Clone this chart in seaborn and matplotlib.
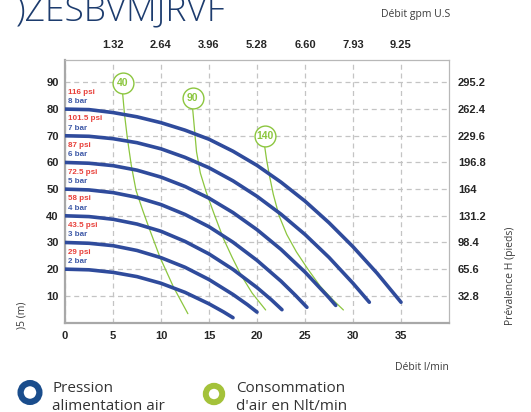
import pandas as pd
import seaborn as sns
from matplotlib import pyplot as plt
from matplotlib.patches import Circle

# pressure curves: debit (l/min) -> head (m)
q_8bar = [0, 2.5, 5, 7.5, 10, 12.5, 15, 17.5, 20, 22.5, 25, 27.5, 30, 32.5, 35]
h_8bar = [80, 79.8, 78.7, 77.1, 74.9, 72.1, 68.7, 64.2, 58.9, 52.6, 45.5, 37.4, 28.4, 18.5, 7.6]
q_7bar = [0, 2.5, 5, 7.5, 10, 12.5, 15, 17.5, 20, 22.5, 25, 27.5, 30, 31.7]
h_7bar = [70, 69.8, 68.9, 67.4, 65.1, 61.9, 58.0, 53.1, 47.3, 40.6, 33.0, 24.4, 14.7, 7.6]
q_6bar = [0, 2.5, 5, 7.5, 10, 12.5, 15, 17.5, 20, 22.5, 25, 27.5, 28.2]
h_6bar = [60, 59.7, 58.8, 57.1, 54.5, 51.0, 46.6, 41.2, 34.8, 27.4, 18.9, 9.3, 6.4]
q_5bar = [0, 2.5, 5, 7.5, 10, 12.5, 15, 17.5, 20, 22.5, 24, 25.2]
h_5bar = [50, 49.7, 48.7, 46.9, 44.2, 40.5, 35.9, 30.1, 23.3, 15.5, 10.2, 5.7]
q_4bar = [0, 2.5, 5, 7.5, 10, 12.5, 15, 17.5, 20, 21.5, 22.6]
h_4bar = [40, 39.7, 38.7, 36.9, 34.2, 30.4, 25.7, 19.9, 13.1, 8.5, 4.8]
q_3bar = [0, 2.5, 5, 7.5, 10, 12.5, 15, 17.5, 19, 20]
h_3bar = [30, 29.7, 28.8, 27.0, 24.3, 20.7, 16.1, 10.5, 6.7, 3.9]
q_2bar = [0, 2.5, 5, 7.5, 10, 12.5, 15, 16.5, 17.5]
h_2bar = [20, 19.75, 18.8, 17.2, 14.7, 11.3, 7.0, 4.0, 1.8]

bar_labels = ["8 bar", "7 bar", "6 bar", "5 bar", "4 bar", "3 bar", "2 bar"]
psi_labels = ["116 psi", "101.5 psi", "87 psi", "72.5 psi", "58 psi", "43.5 psi", "29 psi"]
start_heads = [80, 70, 60, 50, 40, 30, 20]

# air consumption lines (Nlt/min)
q_air40 = [6.0, 6.2, 6.5, 6.9, 7.4, 8.1, 8.8, 9.9, 11.3, 12.8]
h_air40 = [86, 78, 69, 59, 49.5, 42, 35, 24.4, 13.3, 3.3]
q_air90 = [13.3, 13.5, 13.7, 14.1, 14.7, 15.5, 16.5, 17.4, 18.3, 19.5, 20.9]
h_air90 = [80, 72, 64, 56, 49, 41, 31.5, 24.5, 18, 11, 4.7]
q_air140 = [20.8, 21.0, 21.3, 21.7, 22.3, 23.1, 24.1, 25.3, 26.6, 27.9, 29.0]
h_air140 = [66, 61, 55, 48, 40, 33, 26.5, 20, 13.5, 8.5, 4.7]
air_labels = ["40", "90", "140"]
air_bubble_q = [6.0, 13.3, 20.8]
air_bubble_h = [89.8, 84.1, 70.0]

x_ticks = [0, 5, 10, 15, 20, 25, 30, 35]
gpm_ticks = [5, 10, 15, 20, 25, 30, 35]
gpm_labels = ["1.32", "2.64", "3.96", "5.28", "6.60", "7.93", "9.25"]
y_ticks = [10, 20, 30, 40, 50, 60, 70, 80, 90]
feet_labels = ["32.8", "65.6", "98.4", "131.2", "164", "196.8", "229.6", "262.4", "295.2"]

BLUE = "#2f4b9c"
GREEN = "#8cc63f"

curves = [(q_8bar, h_8bar), (q_7bar, h_7bar), (q_6bar, h_6bar), (q_5bar, h_5bar),
          (q_4bar, h_4bar), (q_3bar, h_3bar), (q_2bar, h_2bar)]
press_df = pd.concat([pd.DataFrame({"q": q, "h": h, "bar": b})
                      for (q, h), b in zip(curves, bar_labels)])
air = [(q_air40, h_air40), (q_air90, h_air90), (q_air140, h_air140)]
air_df = pd.concat([pd.DataFrame({"q": q, "h": h, "air": a})
                    for (q, h), a in zip(air, air_labels)])

sns.set_style("white")
plt.rcParams["font.family"] = ["Liberation Sans", "DejaVu Sans"]

fig = plt.figure(figsize=(5.31, 4.12), dpi=100)
ax = fig.add_axes([65 / 531, 89.5 / 412, 384 / 531, 262.5 / 412])

sns.lineplot(data=air_df, x="q", y="h", hue="air", palette=[GREEN] * 3, legend=False,
             estimator=None, sort=False, lw=0.9, ax=ax, zorder=3)
sns.lineplot(data=press_df, x="q", y="h", hue="bar", palette=[BLUE] * 7, legend=False,
             estimator=None, sort=False, lw=2.6, ax=ax, zorder=4,
             solid_joinstyle="round", solid_capstyle="round")

ax.plot(air_bubble_q, air_bubble_h, "o", ms=15, mfc="white", mec=GREEN, mew=1.0, zorder=6)
for q, h, lab in zip(air_bubble_q, air_bubble_h, air_labels):
    ax.text(q, h, lab, ha="center", va="center", color=GREEN, fontsize=7.5,
            fontweight="bold", zorder=7)

for h0, psi, bar in zip(start_heads, psi_labels, bar_labels):
    ax.text(0.35, h0 + 6.4, psi, color="#e8403a", fontsize=5.8, fontweight="bold", va="center")
    ax.text(0.35, h0 + 2.8, bar, color="#3f5aa8", fontsize=5.8, fontweight="bold", va="center")

ax.set_xlim(0, 40)
ax.set_ylim(0, 98.4)
ax.set_xticks(x_ticks)
ax.set_yticks(y_ticks)
ax.set_xlabel("")
ax.set_ylabel("")
ax.set_axisbelow(True)
ax.grid(True, color="#c4c4c4", ls=(0, (4, 3)), lw=0.9)
ax.tick_params(length=0, labelsize=8)
ax.tick_params(axis="x", pad=6)
ax.tick_params(axis="y", pad=4.5)
for lab in ax.get_xticklabels() + ax.get_yticklabels():
    lab.set_fontweight("bold")
for side in ["left", "bottom"]:
    ax.spines[side].set_color("#a8a8a8")
    ax.spines[side].set_linewidth(1.6)
for side in ["top", "right"]:
    ax.spines[side].set_color("#b8b8b8")
    ax.spines[side].set_linewidth(0.9)

ax_top = ax.twiny()
ax_top.set_xlim(ax.get_xlim())
ax_top.set_xticks(gpm_ticks)
ax_top.set_xticklabels(gpm_labels, fontweight="bold")
ax_top.tick_params(length=0, labelsize=8, pad=7)
ax_right = ax.twinx()
ax_right.set_ylim(ax.get_ylim())
ax_right.set_yticks(y_ticks)
ax_right.set_yticklabels(feet_labels, fontweight="bold")
ax_right.tick_params(length=0, labelsize=8, pad=6.5)
for tw in (ax_top, ax_right):
    for sp in tw.spines.values():
        sp.set_visible(False)

# page furniture in pixel coordinates
lay = fig.add_axes([0, 0, 1, 1])
lay.set_xlim(0, 531)
lay.set_ylim(412, 0)
lay.axis("off")
# the heading is cropped at the top edge in the original page, kept that way
lay.text(16, 20, ")ZESBVMJRVF", family="Open Sans", fontweight="light", fontsize=25.5,
         color="#1d3c6e", va="baseline")
lay.text(450, 14, "Débit gpm U.S", family="Open Sans", fontsize=7.5, color="#3c3c3c",
         ha="right", va="center")
lay.text(449, 368, "Débit l/min", family="Open Sans", fontsize=7.5, color="#3c3c3c",
         ha="right", va="center")
lay.text(22.5, 315, ")5 (m)", family="Open Sans", fontsize=7.5, color="#3c3c3c",
         rotation=90, ha="center", va="center")
lay.text(510, 276, "Prévalence H (pieds)", family="Open Sans", fontsize=7.5, color="#3c3c3c",
         rotation=90, ha="center", va="center")
lay.add_patch(Circle((30, 392.5), 9.4, fill=False, ec="#1a4d8c", lw=4.5))
lay.add_patch(Circle((214, 394), 8.2, fill=False, ec="#a4c23a", lw=4.3))
lay.text(52, 388, "Pression", family="Open Sans", fontsize=11, color="#333333", va="center")
lay.text(52, 406, "alimentation air", family="Open Sans", fontsize=11, color="#333333", va="center")
lay.text(236, 388, "Consommation", family="Open Sans", fontsize=11, color="#333333", va="center")
lay.text(236, 406, "d'air en Nlt/min", family="Open Sans", fontsize=11, color="#333333", va="center")

fig.savefig("out.png", dpi=100)
